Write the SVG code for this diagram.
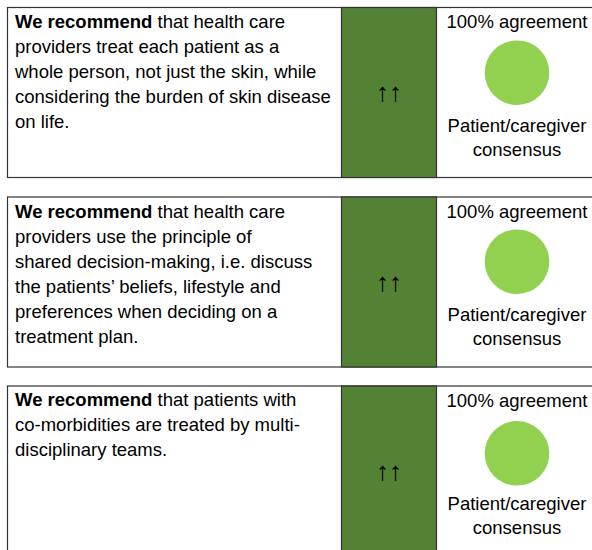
<svg xmlns="http://www.w3.org/2000/svg" width="592" height="550" viewBox="0 0 592 550">
<style>
.box{fill:#ffffff;stroke:#333333;stroke-width:1.2}
.str{fill:#548235;stroke:#333333;stroke-width:1.2}
.dot{fill:#92D050}
text{font-family:"Liberation Sans",Arial,Helvetica,sans-serif;font-size:18.5px;fill:#000}
.c{text-anchor:middle}
.b{font-weight:bold}
.arr{font-family:"Liberation Sans",sans-serif;font-size:26px}
</style>
<rect width="592" height="550" fill="#ffffff"/>
<g id="rec1">
<rect class="box" x="7.5" y="7.5" width="600" height="170"/>
<rect class="str" x="341.5" y="7.5" width="95" height="170"/>
<text x="15" y="27.7"><tspan class="b">We recommend</tspan> that health care</text>
<text x="15" y="52.7">providers treat each patient as a</text>
<text x="15" y="77.7">whole person, not just the skin, while</text>
<text x="15" y="102.7">considering the burden of skin disease</text>
<text x="15" y="127.7">on life.</text>
<text class="c arr" x="389" y="101">↑↑</text>
<text class="c" x="517" y="28.3">100% agreement</text>
<circle class="dot" cx="517" cy="72.7" r="32.3"/>
<text class="c" x="517" y="131.7">Patient/caregiver</text>
<text class="c" x="517" y="156.3">consensus</text>
</g>
<g id="rec2">
<rect class="box" x="7.5" y="197" width="600" height="170"/>
<rect class="str" x="341.5" y="197" width="95" height="170"/>
<text x="15" y="217.7"><tspan class="b">We recommend</tspan> that health care</text>
<text x="15" y="242.7">providers use the principle of</text>
<text x="15" y="267.7">shared decision-making, i.e. discuss</text>
<text x="15" y="292.7">the patients’ beliefs, lifestyle and</text>
<text x="15" y="317.7">preferences when deciding on a</text>
<text x="15" y="342.7">treatment plan.</text>
<text class="c arr" x="389" y="291">↑↑</text>
<text class="c" x="517" y="217.7">100% agreement</text>
<circle class="dot" cx="517" cy="261.7" r="32.3"/>
<text class="c" x="517" y="320.5">Patient/caregiver</text>
<text class="c" x="517" y="345">consensus</text>
</g>
<g id="rec3">
<rect class="box" x="7.5" y="386" width="600" height="180"/>
<rect class="str" x="341.5" y="386" width="95" height="180"/>
<text x="15" y="406.3"><tspan class="b">We recommend</tspan> that patients with</text>
<text x="15" y="431.3">co-morbidities are treated by multi-</text>
<text x="15" y="456.3">disciplinary teams.</text>
<text class="c arr" x="389" y="480">↑↑</text>
<text class="c" x="517" y="406.7">100% agreement</text>
<circle class="dot" cx="517" cy="453.3" r="32.3"/>
<text class="c" x="517" y="510">Patient/caregiver</text>
<text class="c" x="517" y="534.3">consensus</text>
</g>
</svg>
